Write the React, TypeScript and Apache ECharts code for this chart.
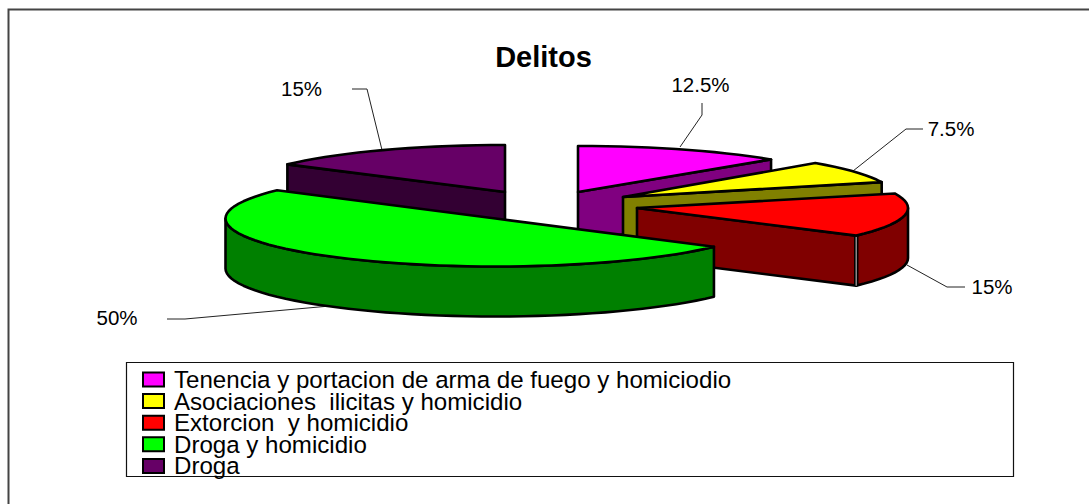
import React, { useEffect, useRef } from "react";
import * as echarts from "echarts";

const categories = [
  "Tenencia y portacion de arma de fuego y homiciodio",
  "Asociaciones  ilicitas y homicidio",
  "Extorcion  y homicidio",
  "Droga y homicidio",
  "Droga",
];
const values = [12.5, 7.5, 15, 50, 15];
const percentLabels = ["12.5%", "7.5%", "15%", "50%", "15%"];
const titleText = "Delitos";

const topColors = ["#FF00FF", "#FFFF00", "#FF0000", "#00FF00", "#660066"];
const sideColors = ["#800080", "#808000", "#800000", "#008000", "#330033"];

// per-slice projection of the exploded 3D pie: apex and radii
const sliceGeometry = [
  { cx: 578, cy: 192, rx: 273, ry: 46 },
  { cx: 623, cy: 197, rx: 272, ry: 48 },
  { cx: 637, cy: 208, rx: 271, ry: 47 },
  { cx: 495.5, cy: 218.5, rx: 270, ry: 48 },
  { cx: 505, cy: 192, rx: 269, ry: 47 },
];
const DEPTH = 50;

// percent labels and their leader lines
const labelLayout = [
  { x: 700.5, y: 84, line: [[702, 103], [702, 115], [680, 147]] },
  { x: 951, y: 128, line: [[923, 129], [906, 129], [853, 171]] },
  { x: 992, y: 286, line: [[907, 265], [947, 287], [965, 287]] },
  { x: 117, y: 317, line: [[167, 319], [185, 319], [330, 306]] },
  { x: 301.5, y: 88, line: [[352, 89], [367, 89], [382, 150]] },
];

const FONT = '"Liberation Sans", Arial, sans-serif';
const total = values.reduce((a, b) => a + b, 0);
const startShares = values.map((_, i) => values.slice(0, i).reduce((a, b) => a + b, 0));

function renderSlice(index: number) {
  return (_params: any, api: any) => {
    const g = sliceGeometry[index];
    const s = (startShares[index] / total) * 360;
    const e = s + (api.value(0) / total) * 360;
    const rad = (d: number) => (d * Math.PI) / 180;
    const pt = (a: number, dz = 0): number[] => [
      g.cx + g.rx * Math.sin(rad(a)),
      g.cy - g.ry * Math.cos(rad(a)) + dz,
    ];
    const arc = (a0: number, a1: number, dz = 0) => {
      const n = Math.max(1, Math.ceil((a1 - a0) / 3));
      const out: number[][] = [];
      for (let i = 0; i <= n; i++) out.push(pt(a0 + ((a1 - a0) * i) / n, dz));
      return out;
    };
    const stroke = { stroke: "#000", lineWidth: 2.6, lineJoin: "round" };
    const children: any[] = [];
    const apex = [g.cx, g.cy];
    const apexLow = [g.cx, g.cy + DEPTH];
    const cutFace = (a: number) => ({
      type: "polygon",
      shape: { points: [apex, pt(a), pt(a, DEPTH), apexLow] },
      style: { fill: sideColors[index], ...stroke },
    });
    const startCut = Math.sin(rad(s)) < -1e-6;
    const endCut = Math.sin(rad(e)) > 1e-6;
    if (startCut) children.push(cutFace(s));
    if (endCut) children.push(cutFace(e));
    const w0 = Math.max(s, 90);
    const w1 = Math.min(e, 270);
    if (w1 > w0) {
      children.push({
        type: "polygon",
        shape: { points: [...arc(w0, w1), ...arc(w0, w1, DEPTH).reverse()] },
        style: { fill: sideColors[index], ...stroke },
      });
      // the cut face and the outer wall meet at a thin grey seam
      if (endCut && e < 180) {
        const p0 = pt(e);
        const p1 = pt(e, DEPTH);
        children.push({
          type: "line",
          shape: { x1: p0[0], y1: p0[1], x2: p1[0], y2: p1[1] },
          style: { stroke: "#000", lineWidth: 4.5 },
        });
        children.push({
          type: "line",
          shape: { x1: p0[0], y1: p0[1], x2: p1[0], y2: p1[1] },
          style: { stroke: "#8a8a8a", lineWidth: 1.5 },
        });
      }
    }
    children.push({
      type: "polygon",
      shape: { points: [apex, ...arc(s, e)] },
      style: { fill: topColors[index], ...stroke },
    });
    return { type: "group", children };
  };
}

// back slices first, front slices over them
const drawOrder = [4, 0, 1, 2, 3];

export default function App() {
  const ref = useRef<HTMLDivElement>(null);
  useEffect(() => {
    document.body.style.margin = "0";
    const chart = echarts.init(ref.current!, null, { renderer: "svg" });
    const graphics: any[] = [
      {
        type: "polyline",
        z: 0,
        shape: { points: [[8.5, 504], [8.5, 9.5], [1089, 9.5]] },
        style: { fill: "none", stroke: "#444", lineWidth: 2 },
      },
      {
        type: "rect",
        z: 0,
        shape: { x: 126.5, y: 362.5, width: 887, height: 114 },
        style: { fill: "#fff", stroke: "#111", lineWidth: 1.2 },
      },
    ];
    labelLayout.forEach((l, i) => {
      graphics.push({
        type: "polyline",
        z: 1,
        shape: { points: l.line },
        style: { fill: "none", stroke: "#222", lineWidth: 1 },
      });
      graphics.push({
        type: "text",
        z: 5,
        x: l.x,
        y: l.y,
        style: {
          text: percentLabels[i],
          fontSize: 20.5,
          fontFamily: FONT,
          fill: "#000",
          align: "center",
          verticalAlign: "middle",
        },
      });
    });
    chart.setOption({
      animation: false,
      backgroundColor: "#fff",
      title: {
        text: titleText,
        left: 538.5,
        top: 37,
        textAlign: "center",
        textStyle: { fontSize: 29, fontWeight: "bold", fontFamily: FONT, color: "#000" },
      },
      legend: {
        orient: "vertical",
        left: 142,
        top: 367.5,
        padding: 0,
        data: categories,
        icon: "rect",
        itemWidth: 21,
        itemHeight: 14,
        itemGap: -2.4,
        selectedMode: false,
        textStyle: {
          fontSize: 24.1,
          fontFamily: FONT,
          color: "#000",
          lineHeight: 20,
          padding: [0, 0, 4, 5],
        },
      },
      graphic: graphics,
      series: drawOrder.map((i) => ({
        type: "custom",
        name: categories[i],
        coordinateSystem: "none",
        silent: true,
        clip: false,
        z: 2,
        itemStyle: { color: topColors[i], borderColor: "#000", borderWidth: 2.4 },
        data: [[values[i]]],
        renderItem: renderSlice(i),
      })),
    });
    return () => chart.dispose();
  }, []);
  return (
    <div
      ref={ref}
      style={{ position: "absolute", left: 0, top: 0, width: 1089, height: 504 }}
    />
  );
}
